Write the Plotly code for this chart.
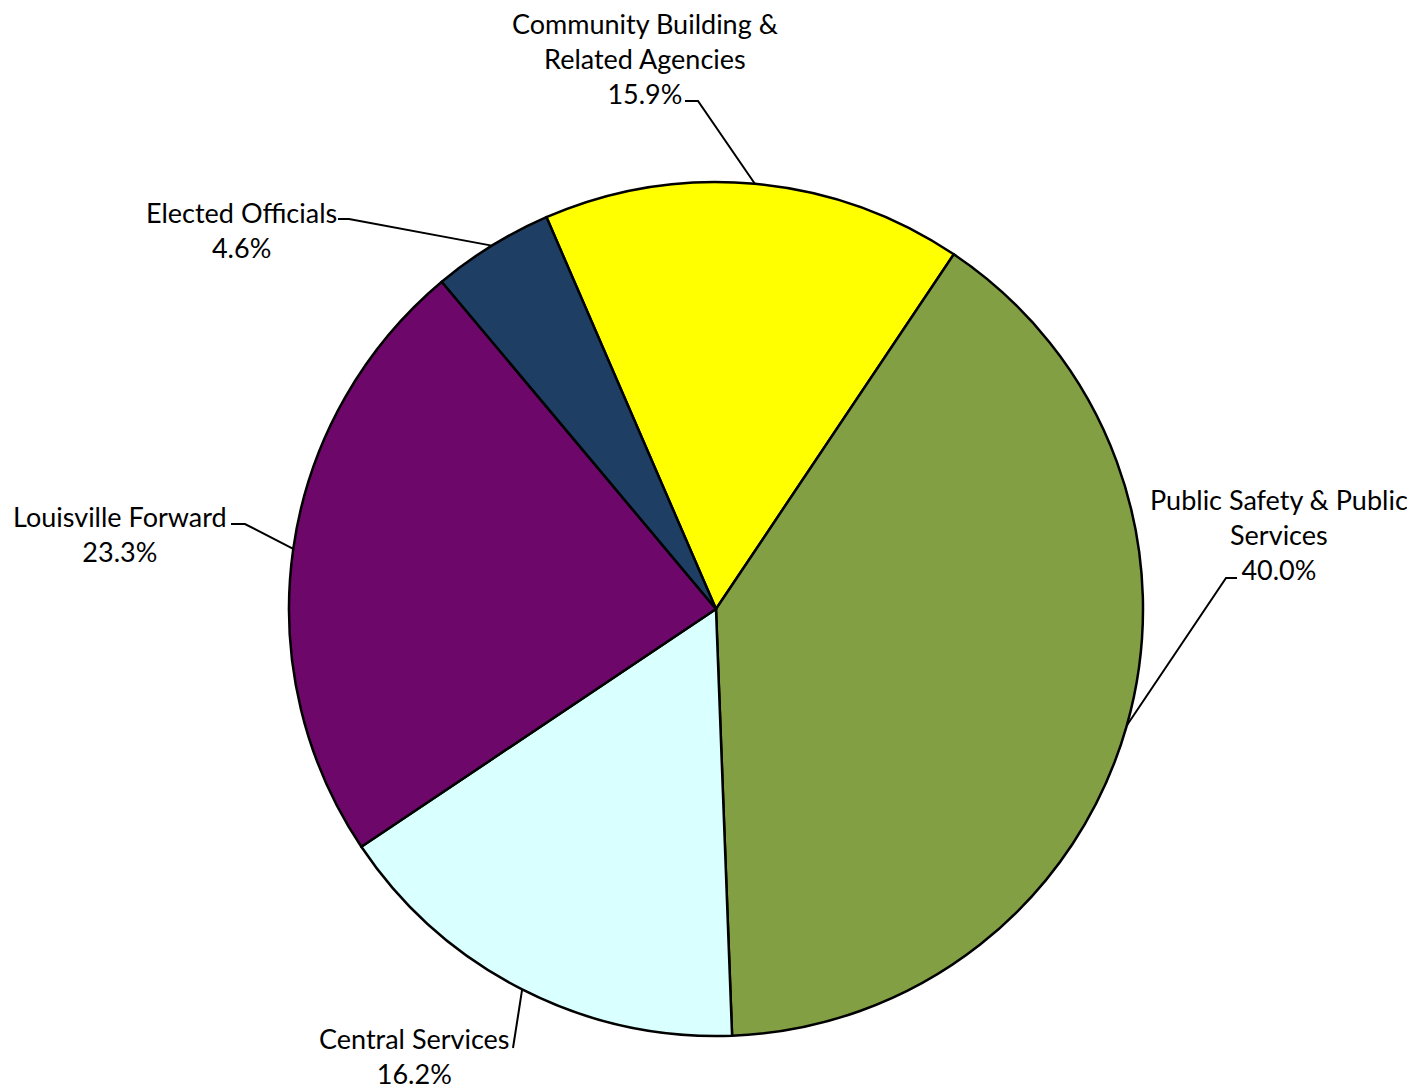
import math
import plotly.graph_objects as go

# ---- data ----
categories = ["Community Building &<br>Related Agencies",
              "Public Safety & Public<br>Services",
              "Central Services",
              "Louisville Forward",
              "Elected Officials"]
shares = [15.9, 40.0, 16.2, 23.3, 4.6]
colors = ["#FFFF00", "#82A043", "#D9FFFF", "#6D0769", "#1F3E64"]

# ---- layout constants (page pixels) ----
OFF = 8  # page body margin
W, H = 1415 - OFF, 1091 - OFF
CX, CY, R = 716, 609, 427
ROTATION = -23.4  # degrees, first slice start (clockwise from 12 o'clock)
FONT = "Lato"
FSIZE = 27

# label block centres and elbow points (page pixels)
label_pos = [(645, 59), (1279, 534), (414, 1056), (120, 534), (241, 230)]
elbows = [[(685, 101), (698, 101)],
          [(1237, 578), (1226, 578)],
          [(513, 1048)],
          [(231, 524), (245, 524)],
          [(338, 219), (349, 219)]]


def px(x, y):
    return (x - OFF) / W, 1 - (y - OFF) / H


fig = go.Figure()
x0, y1 = px(CX - R, CY - R)
x1, y0 = px(CX + R, CY + R)
fig.add_trace(go.Pie(
    values=shares,
    labels=[c.replace("<br>", " ") for c in categories],
    sort=False,
    direction="clockwise",
    rotation=ROTATION,
    textinfo="none",
    hoverinfo="label+percent",
    marker=dict(colors=colors, line=dict(color="#000000", width=2.5)),
    domain=dict(x=[x0, x1], y=[y0, y1]),
    showlegend=False,
))

total = sum(shares)
start = ROTATION
shapes = []
annotations = []
for i, (cat, v) in enumerate(zip(categories, shares)):
    sweep = v / total * 360
    mid = math.radians(start + sweep / 2)
    start += sweep
    ex = CX + R * math.sin(mid)
    ey = CY - R * math.cos(mid)
    pts = elbows[i] + [(ex, ey)]
    path = ""
    for j, (x, y) in enumerate(pts):
        X, Y = px(x, y)
        path += ("M" if j == 0 else " L") + f"{X:.5f},{Y:.5f}"
    shapes.append(dict(type="path", xref="paper", yref="paper", path=path,
                       line=dict(color="#000000", width=2)))
    lx, ly = px(*label_pos[i])
    annotations.append(dict(x=lx, y=ly, xref="paper", yref="paper",
                            text=f"{cat}<br>{v:.1f}%", showarrow=False,
                            xanchor="center", yanchor="middle", align="center",
                            font=dict(family=FONT, size=FSIZE, color="#000000")))

fig.update_layout(width=W, height=H, margin=dict(l=0, r=0, t=0, b=0),
                  paper_bgcolor="white", plot_bgcolor="white",
                  shapes=shapes, annotations=annotations)
fig.write_html("out.html")
